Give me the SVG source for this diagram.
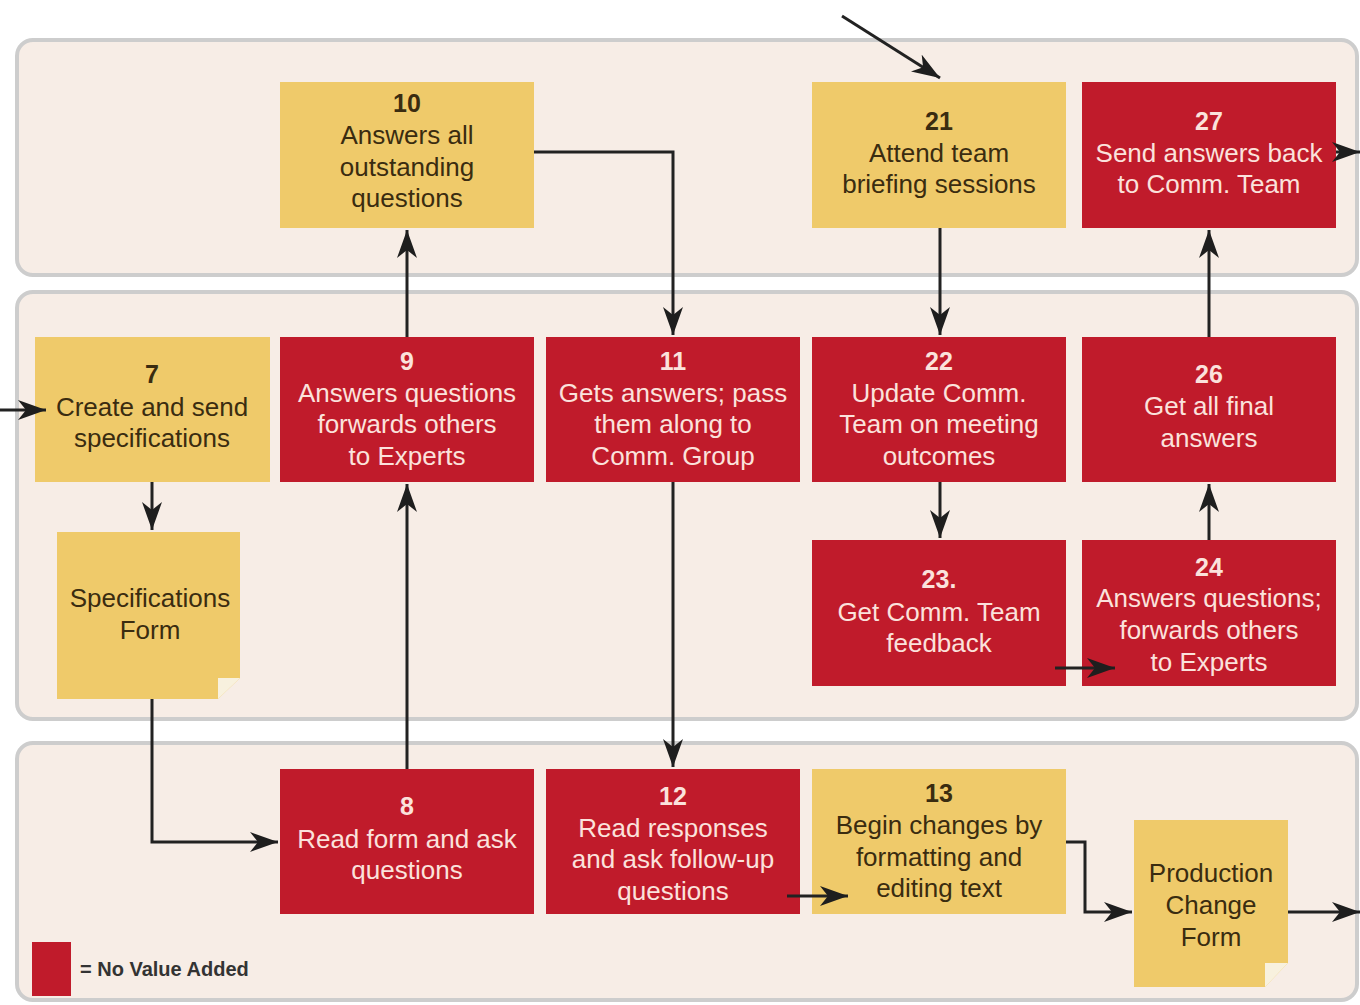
<svg xmlns="http://www.w3.org/2000/svg" width="1360" height="1005" viewBox="0 0 1360 1005">
<style>
.panel{fill:#f7ede6;stroke:#cdcdcd;stroke-width:4}
.y{fill:#efca6a}
.r{fill:#c01b2b}
text{font-family:"Liberation Sans",Arial,sans-serif;font-size:26px;text-anchor:middle}
.n{font-weight:bold;font-size:25px}
.dk{fill:#3a2c10}
.lt{fill:#fbe2dc}
.flap{fill:#f8f1de}
.c{fill:none;stroke:#222;stroke-width:3;marker-end:url(#ah)}
</style>
<defs>
<marker id="ah" markerUnits="userSpaceOnUse" markerWidth="30" markerHeight="22" refX="28" refY="10" orient="auto">
<path d="M0,0 L28,10 L0,20 L8,10 z" fill="#1e1e1e"/>
</marker>
</defs>
<rect width="1360" height="1005" fill="#ffffff"/>
<g id="panels">
<rect class="panel" x="17" y="40" width="1340" height="235" rx="16"/>
<rect class="panel" x="17" y="292" width="1340" height="427" rx="16"/>
<rect class="panel" x="17" y="743" width="1340" height="257" rx="16"/>
</g>
<g id="n10"><rect class="y" x="280" y="82" width="254" height="146"/>
<text class="n dk" x="407" y="112">10</text><text class="dk" x="407" y="144">Answers all</text><text class="dk" x="407" y="176">outstanding</text><text class="dk" x="407" y="207">questions</text></g>
<g id="n21"><rect class="y" x="812" y="82" width="254" height="146"/>
<text class="n dk" x="939" y="130">21</text><text class="dk" x="939" y="162">Attend team</text><text class="dk" x="939" y="193">briefing sessions</text></g>
<g id="n27"><rect class="r" x="1082" y="82" width="254" height="146"/>
<text class="n lt" x="1209" y="130">27</text><text class="lt" x="1209" y="162">Send answers back</text><text class="lt" x="1209" y="193">to Comm. Team</text></g>
<g id="n7"><rect class="y" x="35" y="337" width="235" height="145"/>
<text class="n dk" x="152" y="383">7</text><text class="dk" x="152" y="416">Create and send</text><text class="dk" x="152" y="447">specifications</text></g>
<g id="n9"><rect class="r" x="280" y="337" width="254" height="145"/>
<text class="n lt" x="407" y="370">9</text><text class="lt" x="407" y="402">Answers questions</text><text class="lt" x="407" y="433">forwards others</text><text class="lt" x="407" y="465">to Experts</text></g>
<g id="n11"><rect class="r" x="546" y="337" width="254" height="145"/>
<text class="n lt" x="673" y="370">11</text><text class="lt" x="673" y="402">Gets answers; pass</text><text class="lt" x="673" y="433">them along to</text><text class="lt" x="673" y="465">Comm. Group</text></g>
<g id="n22"><rect class="r" x="812" y="337" width="254" height="145"/>
<text class="n lt" x="939" y="370">22</text><text class="lt" x="939" y="402">Update Comm.</text><text class="lt" x="939" y="433">Team on meeting</text><text class="lt" x="939" y="465">outcomes</text></g>
<g id="n26"><rect class="r" x="1082" y="337" width="254" height="145"/>
<text class="n lt" x="1209" y="383">26</text><text class="lt" x="1209" y="415">Get all final</text><text class="lt" x="1209" y="447">answers</text></g>
<g id="specform"><path class="y" d="M57,532 H240 V678 L218,699 H57 Z"/><path class="flap" d="M218,678 H240 L218,699 Z"/>
<text class="dk" x="150" y="607">Specifications</text><text class="dk" x="150" y="639">Form</text></g>
<g id="n23"><rect class="r" x="812" y="540" width="254" height="146"/>
<text class="n lt" x="939" y="588">23.</text><text class="lt" x="939" y="621">Get Comm. Team</text><text class="lt" x="939" y="652">feedback</text></g>
<g id="n24"><rect class="r" x="1082" y="540" width="254" height="146"/>
<text class="n lt" x="1209" y="576">24</text><text class="lt" x="1209" y="607">Answers questions;</text><text class="lt" x="1209" y="639">forwards others</text><text class="lt" x="1209" y="671">to Experts</text></g>
<g id="n8"><rect class="r" x="280" y="769" width="254" height="145"/>
<text class="n lt" x="407" y="815">8</text><text class="lt" x="407" y="848">Read form and ask</text><text class="lt" x="407" y="879">questions</text></g>
<g id="n12"><rect class="r" x="546" y="769" width="254" height="145"/>
<text class="n lt" x="673" y="805">12</text><text class="lt" x="673" y="837">Read responses</text><text class="lt" x="673" y="868">and ask follow-up</text><text class="lt" x="673" y="900">questions</text></g>
<g id="n13"><rect class="y" x="812" y="769" width="254" height="145"/>
<text class="n dk" x="939" y="802">13</text><text class="dk" x="939" y="834">Begin changes by</text><text class="dk" x="939" y="866">formatting and</text><text class="dk" x="939" y="897">editing text</text></g>
<g id="prodform"><path class="y" d="M1134,820 H1288 V963 L1265,987 H1134 Z"/><path class="flap" d="M1265,963 H1288 L1265,987 Z"/>
<text class="dk" x="1211" y="882">Production</text><text class="dk" x="1211" y="914">Change</text><text class="dk" x="1211" y="946">Form</text></g>
<g id="legend"><rect class="r" x="32" y="942" width="39" height="54"/>
<text x="80" y="976" style="font-weight:bold;font-size:20px;text-anchor:start;fill:#333">= No Value Added</text></g>
<g id="connectors">
<path class="c" d="M842,16 L940,78"/>
<path class="c" d="M534,152 H673 V335"/>
<path class="c" d="M407,337 V230"/>
<path class="c" d="M407,769 V484"/>
<path class="c" d="M673,482 V767"/>
<path class="c" d="M940,228 V335"/>
<path class="c" d="M940,482 V538"/>
<path class="c" d="M1209,540 V484"/>
<path class="c" d="M1209,337 V230"/>
<path class="c" d="M1336,152 H1360"/>
<path class="c" d="M0,410 H46"/>
<path class="c" d="M152,482 V530"/>
<path class="c" d="M152,699 V842 H278"/>
<path class="c" d="M1055,668 H1115"/>
<path class="c" d="M787,896 H848"/>
<path class="c" d="M1066,842 H1085 V912 H1132"/>
<path class="c" d="M1288,912 H1360"/>
</g>
</svg>
